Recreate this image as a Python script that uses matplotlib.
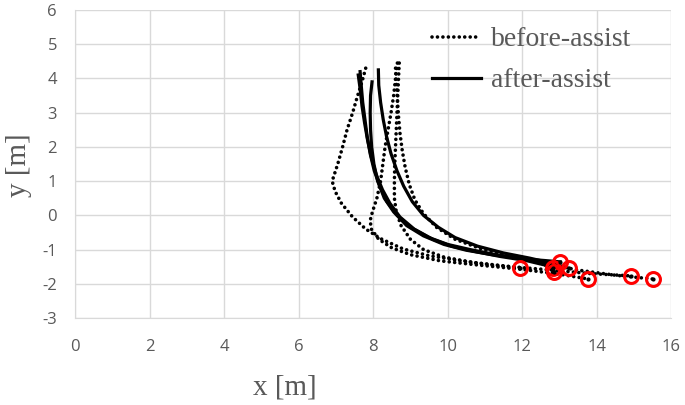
import matplotlib.pyplot as plt

plt.rcParams['axes.unicode_minus'] = False

# before-assist trajectories (dotted)
before_x = [
    [7.8, 7.7, 7.57, 7.45, 7.3, 7.18, 7.05, 6.93, 6.9, 6.98, 7.15, 7.45, 7.8,
     8.2, 8.8, 9.5, 10.3, 11.2, 11.95],
    [8.65, 8.6, 8.55, 8.48, 8.4, 8.32, 8.26, 8.2, 8.1, 7.98, 7.92, 7.95, 8.15,
     8.5, 9.0, 9.8, 10.8, 12.0, 13.0, 13.77],
    [8.7, 8.68, 8.66, 8.64, 8.62, 8.6, 8.58, 8.57, 8.57, 8.62, 8.75, 9.0, 9.35,
     9.9, 10.7, 11.7, 12.8, 13.8, 14.93],
    [8.6, 8.62, 8.65, 8.68, 8.72, 8.78, 8.86, 8.97, 9.12, 9.35, 9.7, 10.2,
     10.9, 11.7, 12.6, 13.5, 14.5, 15.5],
]
before_y = [
    [4.3, 3.9, 3.45, 3.0, 2.5, 2.0, 1.5, 1.1, 1.0, 0.7, 0.35, -0.05, -0.4,
     -0.68, -0.98, -1.18, -1.32, -1.45, -1.53],
    [4.45, 4.0, 3.5, 3.0, 2.5, 2.0, 1.5, 1.0, 0.5, 0.1, -0.15, -0.4, -0.7,
     -0.95, -1.15, -1.33, -1.45, -1.58, -1.72, -1.86],
    [4.45, 4.0, 3.5, 3.0, 2.5, 2.0, 1.5, 1.0, 0.5, 0.1, -0.3, -0.7, -1.0,
     -1.22, -1.38, -1.5, -1.6, -1.7, -1.77],
    [4.3, 3.9, 3.4, 2.9, 2.4, 1.9, 1.4, 0.9, 0.45, 0.05, -0.35, -0.7, -0.98,
     -1.2, -1.4, -1.6, -1.75, -1.86],
]

# after-assist trajectories (solid)
after_x = [
    [7.65, 7.68, 7.72, 7.78, 7.84, 7.92, 8.03, 8.18, 8.37, 8.65, 9.0, 9.5,
     10.0, 10.6, 11.3, 12.0, 12.5, 12.83],
    [7.6, 7.65, 7.7, 7.77, 7.85, 7.95, 8.08, 8.25, 8.45, 8.72, 9.1, 9.6, 10.1,
     10.7, 11.4, 12.1, 12.6, 12.86],
    [7.97, 7.93, 7.92, 7.93, 7.96, 8.02, 8.12, 8.3, 8.55, 8.9, 9.35, 9.9,
     10.5, 11.2, 12.0, 12.6, 13.02],
    [8.14, 8.15, 8.2, 8.27, 8.36, 8.48, 8.64, 8.82, 9.05, 9.35, 9.75, 10.2,
     10.8, 11.5, 12.2, 12.8, 13.26],
]
after_y = [
    [4.2, 3.8, 3.3, 2.8, 2.3, 1.8, 1.3, 0.85, 0.4, 0.0, -0.35, -0.65, -0.85,
     -1.0, -1.15, -1.27, -1.35, -1.53],
    [4.1, 3.7, 3.2, 2.7, 2.2, 1.7, 1.2, 0.75, 0.35, -0.05, -0.4, -0.7, -0.9,
     -1.05, -1.2, -1.32, -1.45, -1.65],
    [3.9, 3.5, 3.0, 2.5, 2.0, 1.5, 1.0, 0.5, 0.1, -0.3, -0.6, -0.85, -1.02,
     -1.15, -1.27, -1.32, -1.36],
    [4.25, 3.8, 3.3, 2.8, 2.3, 1.8, 1.3, 0.85, 0.4, 0.0, -0.35, -0.65, -0.9,
     -1.1, -1.25, -1.4, -1.55],
]

fig = plt.figure(figsize=(6.85, 4.05), dpi=100)
ax = fig.add_axes([0.1095, 0.2148, 0.8705, 0.7605])

for i in range(len(before_x)):
    ax.plot(before_x[i], before_y[i], color='black', lw=2.6,
            linestyle=(0, (0.01, 1.5)), dash_capstyle='round',
            label='before-assist' if i == 0 else None)
for i in range(len(after_x)):
    ax.plot(after_x[i], after_y[i], color='black', lw=2.3,
            label='after-assist' if i == 0 else None)

# end points of every run
ends_x = [c[-1] for c in before_x] + [c[-1] for c in after_x]
ends_y = [c[-1] for c in before_y] + [c[-1] for c in after_y]
ax.plot(ends_x, ends_y, 'o', mfc='none', mec='red', mew=2.2, ms=10)
ax.plot(ends_x, ends_y, 'o', color='black', ms=2)

ax.set_xlim(0, 16)
ax.set_ylim(-3, 6)
ax.set_xticks(range(0, 17, 2))
ax.set_yticks(range(-3, 7))
ax.grid(color='#d9d9d9', lw=1)
ax.set_axisbelow(True)
for s in ax.spines.values():
    s.set_visible(False)
ax.spines['left'].set_visible(True)
ax.spines['bottom'].set_visible(True)
ax.spines['left'].set_color('#d9d9d9')
ax.spines['bottom'].set_color('#d9d9d9')
ax.tick_params(length=0, labelsize=12, labelcolor='#595959')
ax.tick_params(axis='x', pad=15)
ax.tick_params(axis='y', pad=13)
for lab in ax.get_xticklabels() + ax.get_yticklabels():
    lab.set_family('Open Sans')

ax.set_xlabel('x [m]', family='Liberation Serif', fontsize=21, color='#595959')
ax.set_ylabel('y [m]', family='Liberation Serif', fontsize=21, color='#595959')
ax.xaxis.set_label_coords(0.352, -0.185)
ax.yaxis.set_label_coords(-0.072, 0.497)

leg = ax.legend(loc='upper left', bbox_to_anchor=(0.599, 0.945), frameon=False,
                handlelength=1.75, handletextpad=0.36, labelspacing=0.56,
                borderpad=0, borderaxespad=0,
                prop={'family': 'Liberation Serif', 'size': 20})
for t in leg.get_texts():
    t.set_color('#595959')

fig.savefig('out.png', dpi=100)
